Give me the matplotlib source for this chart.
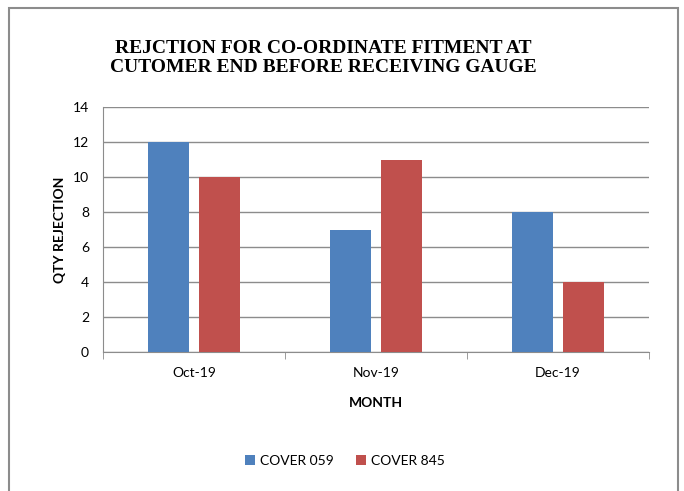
import matplotlib
matplotlib.use("Agg")
import matplotlib.pyplot as plt
from matplotlib.patches import Rectangle
import numpy as np

months = ["Oct-19", "Nov-19", "Dec-19"]
cover_059 = [12, 7, 8]
cover_845 = [10, 11, 4]
series_names = ["COVER 059", "COVER 845"]
colors = ["#4F81BD", "#C0504D"]

W, H = 684, 491
fig = plt.figure(figsize=(W / 100, H / 100), dpi=100)
fig.patch.set_facecolor("white")

# outer chart border (bottom edge falls outside the picture)
fig.patches.append(Rectangle((9 / W, -0.02), (678 - 9) / W, 1 - 8 / H + 0.02,
                             transform=fig.transFigure, fill=False,
                             edgecolor="#8c8c8c", linewidth=1.5))

ax = fig.add_axes([103 / W, 1 - 352 / H, (649 - 103) / W, (352 - 107) / H])

x = np.arange(len(months))
w = 0.225
off = 0.14
ax.bar(x - off, cover_059, width=w, color=colors[0], label=series_names[0], zorder=3)
ax.bar(x + off, cover_845, width=w, color=colors[1], label=series_names[1], zorder=3)

ax.set_xlim(-0.5, 2.5)
ax.set_ylim(0, 14)
ax.set_yticks(range(0, 15, 2))
ax.yaxis.grid(True, color="#8c8c8c", linewidth=1)
ax.set_axisbelow(True)

for s in ["top", "right"]:
    ax.spines[s].set_visible(False)
ax.spines["left"].set_color("#8c8c8c")
ax.spines["bottom"].set_color("#8c8c8c")

ax.set_xticks(x)
ax.set_xticklabels(months)
ax.set_xticks([-0.5, 0.5, 1.5, 2.5], minor=True)
ax.tick_params(axis="x", which="major", length=0, pad=11)
ax.tick_params(axis="x", which="minor", length=5, color="#8c8c8c", direction="out")
ax.tick_params(axis="y", length=0, pad=10)
for lab in ax.get_xticklabels() + ax.get_yticklabels():
    lab.set_fontfamily("Lato")
    lab.set_fontsize(10)

ax.set_xlabel("MONTH", fontfamily="Lato", fontweight="bold", fontsize=10, labelpad=13)
ax.set_ylabel("QTY REJECTION", fontfamily="Lato", fontweight="bold", fontsize=10, labelpad=5)

fig.text(323 / W, 1 - 58 / H,
         "REJCTION FOR CO-ORDINATE FITMENT AT\nCUTOMER END BEFORE RECEIVING GAUGE",
         ha="center", va="center", fontfamily="Liberation Serif", fontweight="bold",
         fontsize=14, linespacing=1.12)

fig.legend(loc="center", bbox_to_anchor=(345 / W, 1 - 461 / H), ncol=2, frameon=False,
           prop={"family": "Lato", "size": 10}, handlelength=0.7, handleheight=0.7,
           handletextpad=0.4, columnspacing=1.6)

fig.savefig("out.png", dpi=100)
